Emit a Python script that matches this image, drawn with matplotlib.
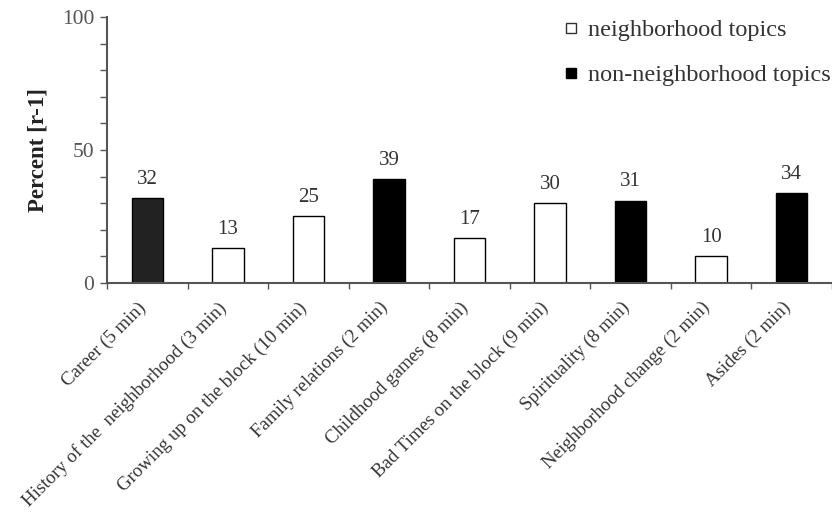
import matplotlib.pyplot as plt
import matplotlib.transforms as mtransforms
from matplotlib.lines import Line2D
import numpy as np

plt.rcParams['font.family'] = ['Liberation Serif', 'DejaVu Serif']

# topics and share of turns
topics = ['Career (5 min)', 'History of the  neighborhood (3 min)',
          'Growing up on the block (10 min)', 'Family relations (2 min)',
          'Childhood games (8 min)', 'Bad Times on the block (9 min)',
          'Spirituality (8 min)', 'Neighborhood change (2 min)', 'Asides (2 min)']
percent = [32, 13, 25, 39, 17, 30, 31, 10, 34]
neighborhood = [False, True, True, False, True, True, False, True, False]

txt = '#333333'
fig = plt.figure(figsize=(8.32, 5.14), dpi=100)
ax = fig.add_axes([0.1286, 0.4494, 0.8714, 0.5176])

x = np.arange(len(topics))
colors = []
for i, nb in enumerate(neighborhood):
    if nb:
        colors.append('white')
    elif i == 0:
        colors.append('#222222')
    else:
        colors.append('black')
ax.bar(x, percent, width=0.39, color=colors, edgecolor='black', linewidth=1.0)

for xi, v in zip(x, percent):
    ax.text(xi, v + 3.4, str(v), ha='center', va='bottom', fontsize=15, color=txt)

ax.set_xlim(-0.5, len(topics) - 0.5)
ax.set_ylim(0, 100)
ax.set_yticks([0, 50, 100])
ax.set_yticks(np.arange(0, 101, 10), minor=True)
ax.tick_params(axis='y', which='both', direction='out', length=5, width=1,
               color='#555555', labelsize=15.5, labelcolor='#555555', pad=4)

ax.set_xticks(np.arange(-0.5, len(topics), 1.0), minor=True)
ax.set_xticks(x)
ax.set_xticklabels(topics, rotation=45, ha='right', rotation_mode='anchor',
                   fontsize=13.6, color=txt)
ax.tick_params(axis='x', which='major', length=0, pad=10)
ax.tick_params(axis='x', which='minor', direction='out', length=4, width=1,
               color='#555555')
shift = mtransforms.ScaledTranslation(-10 / 100, -2 / 100, fig.dpi_scale_trans)
for lab in ax.get_xticklabels():
    lab.set_transform(lab.get_transform() + shift)

for s in ['top', 'right']:
    ax.spines[s].set_visible(False)
for s in ['left', 'bottom']:
    ax.spines[s].set_color('#555555')
    ax.spines[s].set_linewidth(1.5)

ax.set_ylabel('Percent [r-1]', fontsize=16.5, fontweight='bold', color='#222222',
              labelpad=10)

handles = [Line2D([], [], marker='s', ls='none', markersize=7,
                  markerfacecolor='white', markeredgecolor='#333333'),
           Line2D([], [], marker='s', ls='none', markersize=7,
                  markerfacecolor='black', markeredgecolor='black')]
fig.legend(handles, ['neighborhood topics', 'non-neighborhood topics'],
           loc='upper left', bbox_to_anchor=(558 / 832, 1 - 12 / 514), frameon=False,
           fontsize=17.5, handlelength=0.5, handletextpad=0.45,
           labelspacing=0.95, labelcolor=txt, borderaxespad=0, borderpad=0.3)

fig.savefig('out.png', dpi=100)
